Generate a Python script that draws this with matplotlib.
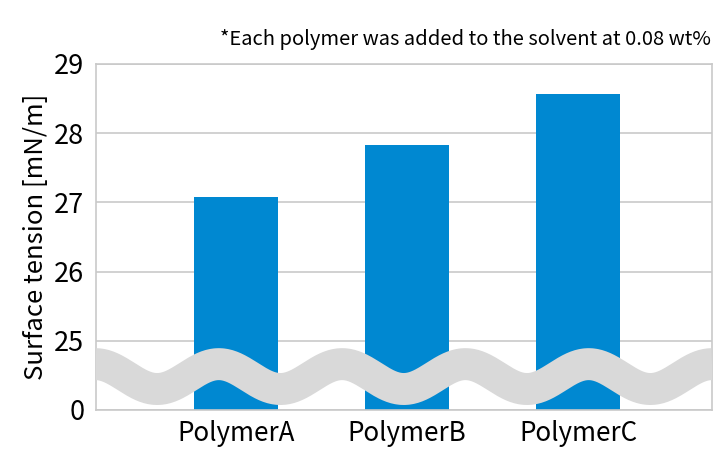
import matplotlib
matplotlib.use("Agg")
import matplotlib.pyplot as plt
import numpy as np

# data
polymers = ["PolymerA", "PolymerB", "PolymerC"]
surface_tension = [27.08, 27.83, 28.56]  # mN/m
tick_values = [0, 25, 26, 27, 28, 29]
note = "*Each polymer was added to the solvent at 0.08 wt%"

# broken axis: 0 sits one step below 25, everything above is offset
break_base = 24

bar_color = "#0088d1"
grid_color = "#c9c9c9"
wave_color = "#d9d9d9"

plt.rcParams["font.family"] = ["Noto Sans CJK JP", "DejaVu Sans"]

fig = plt.figure(figsize=(7.26, 4.5), dpi=100)
ax = fig.add_axes([95.5 / 726, 40 / 450, (712 - 95.5) / 726, (410 - 64) / 450])

x = np.arange(len(polymers))
heights = [v - break_base for v in surface_tension]
ax.bar(x, heights, width=0.493, color=bar_color, zorder=2)

tick_pos = [0] + [t - break_base for t in tick_values[1:]]
ax.set_yticks(tick_pos)
ax.set_yticklabels([str(t) for t in tick_values])
ax.set_ylim(0, 5)
ax.set_xlim(-0.824, 2.784)
ax.set_xticks(x)
ax.set_xticklabels(polymers)

ax.yaxis.grid(True, color=grid_color, linewidth=1.2, zorder=0)
ax.set_axisbelow(True)
for s in ax.spines.values():
    s.set_color(grid_color)
    s.set_linewidth(1.2)
ax.tick_params(axis="both", length=0, colors="black")
ax.tick_params(axis="y", pad=8, labelsize=19.5)
ax.tick_params(axis="x", pad=7, labelsize=18.7)

ax.set_ylabel("Surface tension [mN/m]", fontsize=18.5, labelpad=4)

# wavy band marking the axis break (5 periods across the plot)
x0, x1 = ax.get_xlim()
wx = np.linspace(x0, x1, 600)
phase = (wx - x0) / (x1 - x0) * 5 * 2 * np.pi
wy = 0.483 + 0.18 * np.cos(phase)
ax.plot(wx, wy, color=wave_color, linewidth=23, solid_capstyle="butt", zorder=3)

fig.text(711 / 726, 1 - 40 / 450, note, ha="right", va="center", fontsize=14.5)

fig.savefig("out.png", dpi=100)
